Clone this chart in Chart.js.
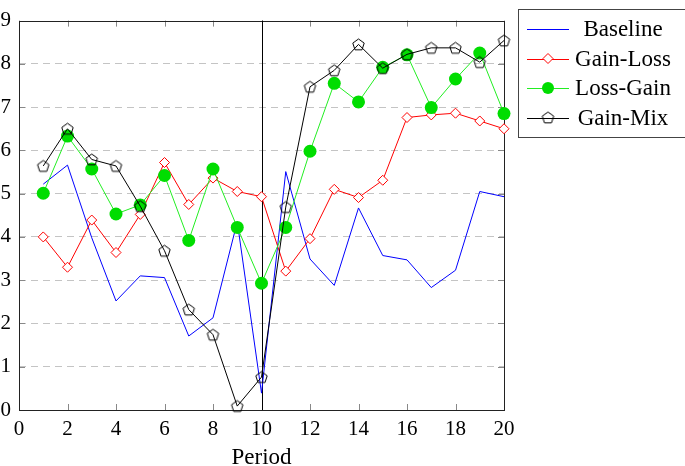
<!DOCTYPE html>
<html lang="en">
<head>
    <meta charset="UTF-8">
    <title>Period chart</title>
    <script src="https://cdn.jsdelivr.net/npm/chart.js"></script>
    <style>
        html, body { margin: 0; padding: 0; background: #ffffff; }
        #grafico { width: 685px; height: 466px; }
    </style>
</head>
<body>
    <div id="grafico">
        <canvas id="myChartCanvas" width="685" height="466"></canvas>
    </div>

<script>
    // dados
    var periods = [1, 2, 3, 4, 5, 6, 7, 8, 9, 10, 11, 12, 13, 14, 15, 16, 17, 18, 19, 20];
    var baseline = [5.22, 5.66, 3.98, 2.52, 3.10, 3.06, 1.71, 2.13, 4.35, 0.39, 5.51, 3.49, 2.88, 4.67, 3.57, 3.47, 2.83, 3.23, 5.05, 4.93];
    var gainLoss = [4.00, 3.30, 4.39, 3.64, 4.52, 5.72, 4.75, 5.36, 5.05, 4.93, 3.21, 3.96, 5.10, 4.91, 5.31, 6.76, 6.82, 6.86, 6.68, 6.50];
    var lossGain = [5.01, 6.33, 5.57, 4.53, 4.74, 5.42, 3.92, 5.57, 4.22, 2.93, 4.22, 5.98, 7.55, 7.12, 7.92, 8.21, 6.99, 7.65, 8.25, 6.85];
    var gainMix = [5.64, 6.50, 5.79, 5.64, 4.71, 3.68, 2.32, 1.74, 0.09, 0.76, 4.69, 7.47, 7.85, 8.45, 7.90, 8.22, 8.37, 8.37, 8.04, 8.54];
    var seriesNames = ['Baseline', 'Gain-Loss', 'Loss-Gain', 'Gain-Mix'];
    var xTicks = [0, 2, 4, 6, 8, 10, 12, 14, 16, 18, 20];
    var yTicks = [0, 1, 2, 3, 4, 5, 6, 7, 8, 9];
    var breakPeriod = 10;

    var fonte = 'Liberation Serif';

    function pares(valores) {
        var lista = [];
        for (var i = 0; i < periods.length; i++) {
            lista.push({ x: periods[i], y: valores[i] });
        }
        return lista;
    }

    // pentagono vazio (nao existe no chart.js)
    function fazerPentagono(r) {
        var c = document.createElement('canvas');
        var s = Math.ceil(r * 2 + 3);
        c.width = s;
        c.height = s;
        var g = c.getContext('2d');
        g.strokeStyle = '#000000';
        g.lineWidth = 1;
        g.beginPath();
        for (var k = 0; k < 5; k++) {
            var a = (-90 + 72 * k) * Math.PI / 180;
            var px = s / 2 + r * Math.cos(a);
            var py = s / 2 + 0.5 + r * Math.sin(a);
            if (k == 0) g.moveTo(px, py); else g.lineTo(px, py);
        }
        g.closePath();
        g.stroke();
        return c;
    }
    var pentagono = fazerPentagono(6);

    var dados = {
        datasets: [{
            label: seriesNames[0],
            data: pares(baseline),
            borderColor: '#0000ff',
            borderWidth: 1,
            pointRadius: 0,
            order: 3
        }, {
            label: seriesNames[1],
            data: pares(gainLoss),
            borderColor: '#ff0000',
            borderWidth: 1,
            pointStyle: 'rectRot',
            pointRadius: 5,
            pointBorderColor: '#ff0000',
            pointBackgroundColor: '#ffffff',
            pointBorderWidth: 1,
            order: 2
        }, {
            label: seriesNames[2],
            data: pares(lossGain),
            borderColor: '#22ee22',
            borderWidth: 1,
            pointStyle: 'circle',
            pointRadius: 6.5,
            pointBorderColor: '#00dd00',
            pointBackgroundColor: '#00dd00',
            pointBorderWidth: 0,
            order: 1
        }, {
            label: seriesNames[3],
            data: pares(gainMix),
            borderColor: '#000000',
            borderWidth: 1,
            pointStyle: pentagono,
            order: 0
        }]
    };

    var extras = {
        id: 'extras',
        beforeDatasetsDraw: function (chart) {
            var ctx = chart.ctx;
            var a = chart.chartArea;
            var sx = chart.scales.x;
            var sy = chart.scales.y;
            ctx.save();
            ctx.lineWidth = 1;
            // marcas internas
            ctx.strokeStyle = '#888888';
            ctx.beginPath();
            for (var i = 0; i < xTicks.length; i++) {
                var px = Math.round(sx.getPixelForValue(xTicks[i])) + 0.5;
                ctx.moveTo(px, a.bottom); ctx.lineTo(px, a.bottom - 6);
                ctx.moveTo(px, a.top); ctx.lineTo(px, a.top + 6);
            }
            for (var j = 0; j < yTicks.length; j++) {
                var py = Math.round(sy.getPixelForValue(yTicks[j])) + 0.5;
                ctx.moveTo(a.right, py); ctx.lineTo(a.right - 6, py);
                ctx.moveTo(a.left, py); ctx.lineTo(a.left + 6, py);
            }
            ctx.stroke();
            // moldura
            ctx.strokeStyle = '#222222';
            ctx.strokeRect(Math.round(a.left) + 0.5, Math.round(a.top) + 0.5,
                Math.round(a.right - a.left), Math.round(a.bottom - a.top));
            // linha vertical no periodo 10
            var vx = Math.round(sx.getPixelForValue(breakPeriod)) + 0.5;
            ctx.strokeStyle = '#000000';
            ctx.beginPath();
            ctx.moveTo(vx, a.top);
            ctx.lineTo(vx, a.bottom);
            ctx.stroke();
            ctx.restore();
        },
        afterDraw: function (chart) {
            var ctx = chart.ctx;
            ctx.save();
            ctx.lineWidth = 1;
            ctx.strokeStyle = '#444444';
            ctx.strokeRect(518.5, 9.5, 220, 128);
            var ds = chart.data.datasets;
            for (var i = 0; i < ds.length; i++) {
                var y = 29 + i * 29.5;
                ctx.strokeStyle = ds[i].borderColor;
                ctx.beginPath();
                ctx.moveTo(527, Math.round(y) + 0.5);
                ctx.lineTo(569, Math.round(y) + 0.5);
                ctx.stroke();
                if (i == 1) {
                    ctx.fillStyle = '#ffffff';
                    ctx.beginPath();
                    ctx.moveTo(548, y - 5); ctx.lineTo(553, y); ctx.lineTo(548, y + 5); ctx.lineTo(543, y);
                    ctx.closePath();
                    ctx.fill();
                    ctx.strokeStyle = '#ff0000';
                    ctx.stroke();
                } else if (i == 2) {
                    ctx.fillStyle = '#00dd00';
                    ctx.beginPath();
                    ctx.arc(548, y, 6, 0, Math.PI * 2);
                    ctx.fill();
                } else if (i == 3) {
                    ctx.drawImage(pentagono, 548 - pentagono.width / 2, y - pentagono.height / 2);
                }
                ctx.fillStyle = '#000000';
                ctx.font = '23px "' + fonte + '"';
                ctx.textAlign = 'center';
                ctx.textBaseline = 'middle';
                ctx.fillText(ds[i].label, 623, y + 1);
            }
            ctx.restore();
        }
    };

    var config = {
        type: 'line',
        data: dados,
        options: {
            responsive: false,
            animation: false,
            clip: false,
            layout: {
                padding: { left: 0, top: 9, right: 181, bottom: 0 }
            },
            plugins: {
                legend: { display: false },
                tooltip: { enabled: false }
            },
            scales: {
                x: {
                    type: 'linear',
                    min: 0,
                    max: 20,
                    afterFit: function (scale) { scale.height = 56; },
                    afterBuildTicks: function (scale) {
                        scale.ticks = xTicks.map(function (v) { return { value: v }; });
                    },
                    grid: { display: false, drawTicks: false },
                    border: { display: false },
                    ticks: {
                        color: '#000000',
                        padding: 7,
                        maxRotation: 0,
                        font: { family: fonte, size: 21 }
                    },
                    title: {
                        display: true,
                        text: 'Period',
                        color: '#000000',
                        padding: { top: 6, bottom: -6 },
                        font: { family: fonte, size: 23 }
                    }
                },
                y: {
                    min: 0,
                    max: 9,
                    afterFit: function (scale) { scale.width = 19; },
                    afterBuildTicks: function (scale) {
                        scale.ticks = yTicks.map(function (v) { return { value: v }; });
                    },
                    grid: {
                        drawTicks: false,
                        color: function (c) {
                            if (c.tick && c.tick.value > 0 && c.tick.value < 9) return '#c4c4c4';
                            return 'rgba(0,0,0,0)';
                        },
                        lineWidth: 1
                    },
                    border: { display: false, dash: [7, 5] },
                    ticks: {
                        color: '#000000',
                        padding: 8,
                        font: { family: fonte, size: 21 }
                    }
                }
            }
        },
        plugins: [extras]
    };

    var ctx = document.getElementById('myChartCanvas').getContext('2d');
    var myChart = new Chart(ctx, config);
</script>
</body>
</html>
